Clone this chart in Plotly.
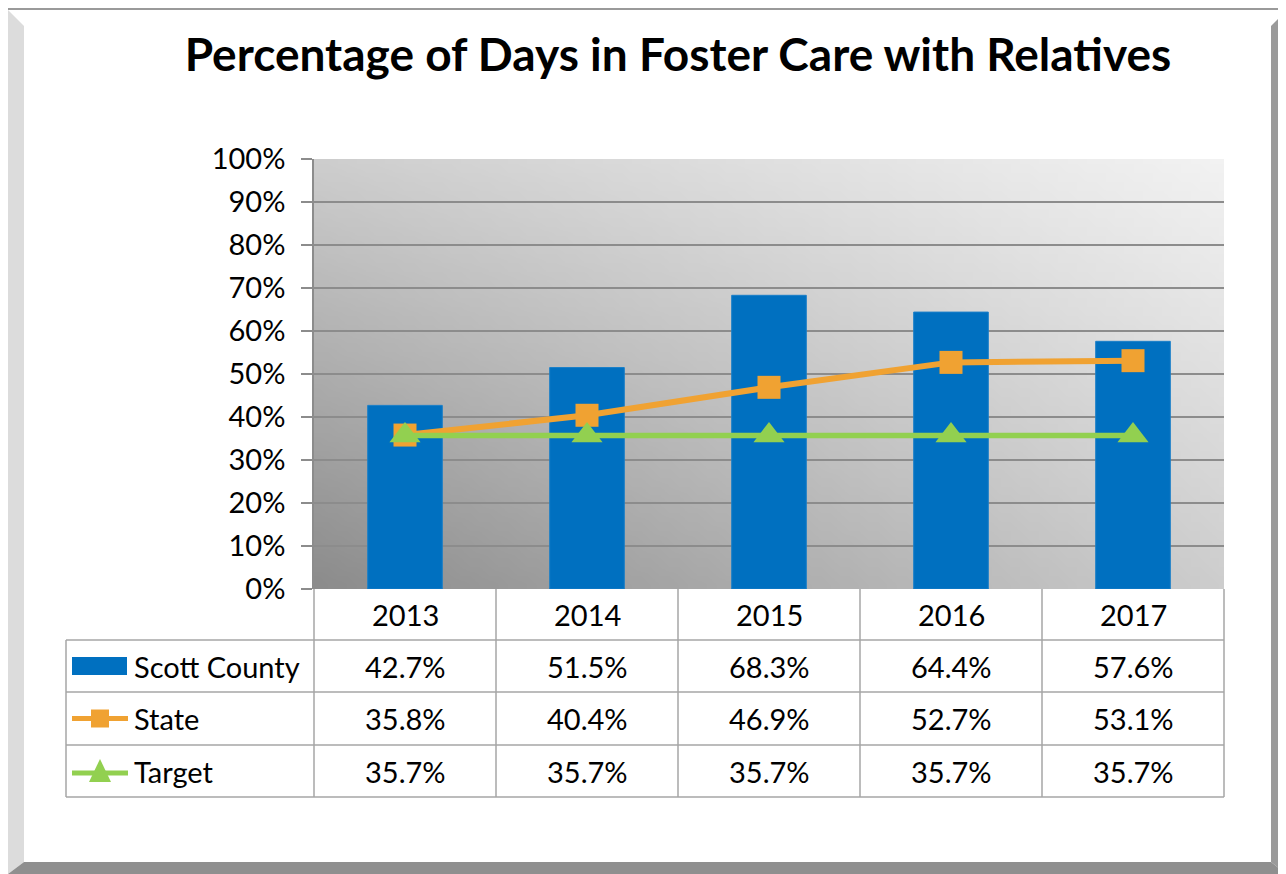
import base64
import struct
import zlib

import plotly.graph_objects as go

# ---- data ----
years = ["2013", "2014", "2015", "2016", "2017"]
scott_county = [0.427, 0.515, 0.683, 0.644, 0.576]
state = [0.358, 0.404, 0.469, 0.527, 0.531]
target = [0.357, 0.357, 0.357, 0.357, 0.357]
series_names = ["Scott County", "State", "Target"]
y_ticks = [0, 0.1, 0.2, 0.3, 0.4, 0.5, 0.6, 0.7, 0.8, 0.9, 1.0]

BLUE = "#0070C0"
ORANGE = "#F0A232"
GREEN = "#92D050"
GRID = "#8C8C8C"
TABLE_LINE = "#A6A6A6"
FONT = "Lato, 'Open Sans', sans-serif"

# the page puts the figure 8px in from the top-left corner
OFF = 8
W, H = 1286 - OFF, 874 - OFF
PL, PR, PT, PB = 314 - OFF, 1224 - OFF, 159 - OFF, 589 - OFF  # plot area


def gradient_png(w, h, tl, tr, bl, br):
    """Small grey PNG with a bilinear gradient, used as plot background."""
    raw = bytearray()
    for j in range(h):
        v = j / (h - 1)
        raw.append(0)
        for i in range(w):
            u = i / (w - 1)
            top = tl + (tr - tl) * u
            bot = bl + (br - bl) * u
            g = int(round(top + (bot - top) * v))
            raw += bytes((g, g, g))

    def chunk(tag, data):
        c = struct.pack(">I", len(data)) + tag + data
        return c + struct.pack(">I", zlib.crc32(tag + data) & 0xFFFFFFFF)

    png = b"\x89PNG\r\n\x1a\n"
    png += chunk(b"IHDR", struct.pack(">IIBBBBB", w, h, 8, 2, 0, 0, 0))
    png += chunk(b"IDAT", zlib.compress(bytes(raw), 9))
    png += chunk(b"IEND", b"")
    return "data:image/png;base64," + base64.b64encode(png).decode()


# convert screenshot pixel positions to paper coordinates
def px(x):
    return (x - OFF - PL) / (PR - PL)


def py(y):
    return (PB - (y - OFF)) / (PB - PT)


fig = go.Figure()

fig.add_trace(
    go.Bar(
        x=years,
        y=scott_county,
        name=series_names[0],
        marker=dict(color=BLUE, line=dict(color="#1A7FC8", width=1)),
        width=0.41,
    )
)
fig.add_trace(
    go.Scatter(
        x=years,
        y=state,
        name=series_names[1],
        mode="lines+markers",
        line=dict(color=ORANGE, width=6),
        marker=dict(symbol="square", size=23, color=ORANGE),
    )
)
fig.add_trace(
    go.Scatter(
        x=years,
        y=target,
        name=series_names[2],
        mode="lines+markers",
        line=dict(color=GREEN, width=5.5),
        marker=dict(symbol="triangle-up", size=27, color=GREEN),
    )
)

shapes = []
annotations = []


# ---- outer bevelled frame ----
def poly(points, color):
    d = "M " + " L ".join(f"{px(x)},{py(y)}" for x, y in points) + " Z"
    return dict(type="path", xref="paper", yref="paper", path=d,
                fillcolor=color, line=dict(width=0), layer="below")


R, B = 1286, 874
shapes.append(poly([(5, 7), (R, 7), (R, 10), (5, 10)], "#9A9A9A"))
shapes.append(poly([(5, 7), (8, 7), (8, B), (5, B)], "#9A9A9A"))
shapes.append(poly([(8, 10), (24, 26), (24, 862), (8, B)], "#DCDCDC"))
shapes.append(poly([(1271, 26), (R, 11), (R, B), (1271, 862)], "#9A9A9A"))
shapes.append(poly([(8, B), (24, 862), (1271, 862), (R, B)], "#8F8F8F"))

# ---- data table below the plot ----
row_edges = [589, 640, 692, 745, 797]
col_edges = [314, 496, 678, 860, 1042, 1224]
tline = dict(color=TABLE_LINE, width=1.5)
for y in row_edges[1:]:
    shapes.append(dict(type="line", xref="paper", yref="paper",
                       x0=px(66), x1=px(1224), y0=py(y), y1=py(y), line=tline))
for x in col_edges:
    shapes.append(dict(type="line", xref="paper", yref="paper",
                       x0=px(x), x1=px(x), y0=py(589), y1=py(797), line=tline))
shapes.append(dict(type="line", xref="paper", yref="paper",
                   x0=px(66), x1=px(66), y0=py(640), y1=py(797), line=tline))

row_centers = [(row_edges[i] + row_edges[i + 1]) / 2 for i in range(4)]
cell_font = dict(size=29, color="black", family=FONT)

# table cells sit under their category (index on the category axis)
for i, yr in enumerate(years):
    annotations.append(dict(x=i, xref="x", y=py(row_centers[0]), yref="paper",
                            xanchor="center", yanchor="middle",
                            text=yr, showarrow=False, font=cell_font))

for r, values in enumerate([scott_county, state, target]):
    yc = py(row_centers[r + 1])
    for i, v in enumerate(values):
        annotations.append(dict(x=i, xref="x", y=yc, yref="paper",
                                xanchor="center", yanchor="middle",
                                text=f"{v * 100:.1f}%", showarrow=False,
                                font=cell_font))
    annotations.append(dict(x=px(132), xref="paper", y=yc, yref="paper",
                            xanchor="left", yanchor="middle",
                            text=series_names[r], showarrow=False,
                            font=cell_font))

# legend keys in the first column
c1, c2, c3 = row_centers[1], row_centers[2], row_centers[3]
shapes.append(dict(type="rect", xref="paper", yref="paper",
                   x0=px(72), x1=px(127), y0=py(c1 - 9), y1=py(c1 + 9),
                   fillcolor=BLUE, line=dict(width=0)))
shapes.append(dict(type="line", xref="paper", yref="paper",
                   x0=px(72), x1=px(128), y0=py(c2), y1=py(c2),
                   line=dict(color=ORANGE, width=5)))
shapes.append(dict(type="rect", xref="paper", yref="paper",
                   x0=px(91), x1=px(109), y0=py(c2 - 9), y1=py(c2 + 9),
                   fillcolor=ORANGE, line=dict(width=0)))
shapes.append(dict(type="line", xref="paper", yref="paper",
                   x0=px(72), x1=px(128), y0=py(c3 + 2), y1=py(c3 + 2),
                   line=dict(color=GREEN, width=5)))
shapes.append(dict(type="path", xref="paper", yref="paper",
                   path=f"M {px(89)},{py(c3 + 11)} L {px(111)},{py(c3 + 11)} "
                        f"L {px(100)},{py(c3 - 12)} Z",
                   fillcolor=GREEN, line=dict(width=0)))

fig.update_layout(
    width=W,
    height=H,
    margin=dict(l=PL, r=W - PR, t=PT, b=H - PB),
    paper_bgcolor="white",
    plot_bgcolor="rgba(0,0,0,0)",
    showlegend=False,
    bargap=0.59,
    font=dict(family=FONT, color="black"),
    title=dict(
        text="<b>Percentage of Days in Foster Care with Relatives</b>",
        x=(678 - OFF) / W,
        xanchor="center",
        y=1 - (55 - OFF) / H,
        yanchor="middle",
        font=dict(size=46, family=FONT, color="black"),
    ),
    xaxis=dict(
        type="category",
        range=[-0.5, len(years) - 0.5],
        showticklabels=False,
        showgrid=False,
        ticks="",
        zeroline=False,
        showline=False,
    ),
    yaxis=dict(
        range=[0, 1],
        tickvals=y_ticks,
        tickformat=".0%",
        showgrid=True,
        gridcolor=GRID,
        gridwidth=1.5,
        zeroline=False,
        showline=True,
        linecolor=GRID,
        linewidth=1.5,
        ticks="outside",
        ticklen=11,
        tickcolor=GRID,
        tickwidth=1.5,
        ticklabelstandoff=10,
        tickfont=dict(size=29, family=FONT, color="black"),
    ),
    images=[
        dict(
            source=gradient_png(96, 48, 205, 242, 140, 205),
            xref="paper", yref="paper", x=0, y=1, sizex=1, sizey=1,
            sizing="stretch", xanchor="left", yanchor="top", layer="below",
        )
    ],
    shapes=shapes,
    annotations=annotations,
)

fig.write_html("out.html")
